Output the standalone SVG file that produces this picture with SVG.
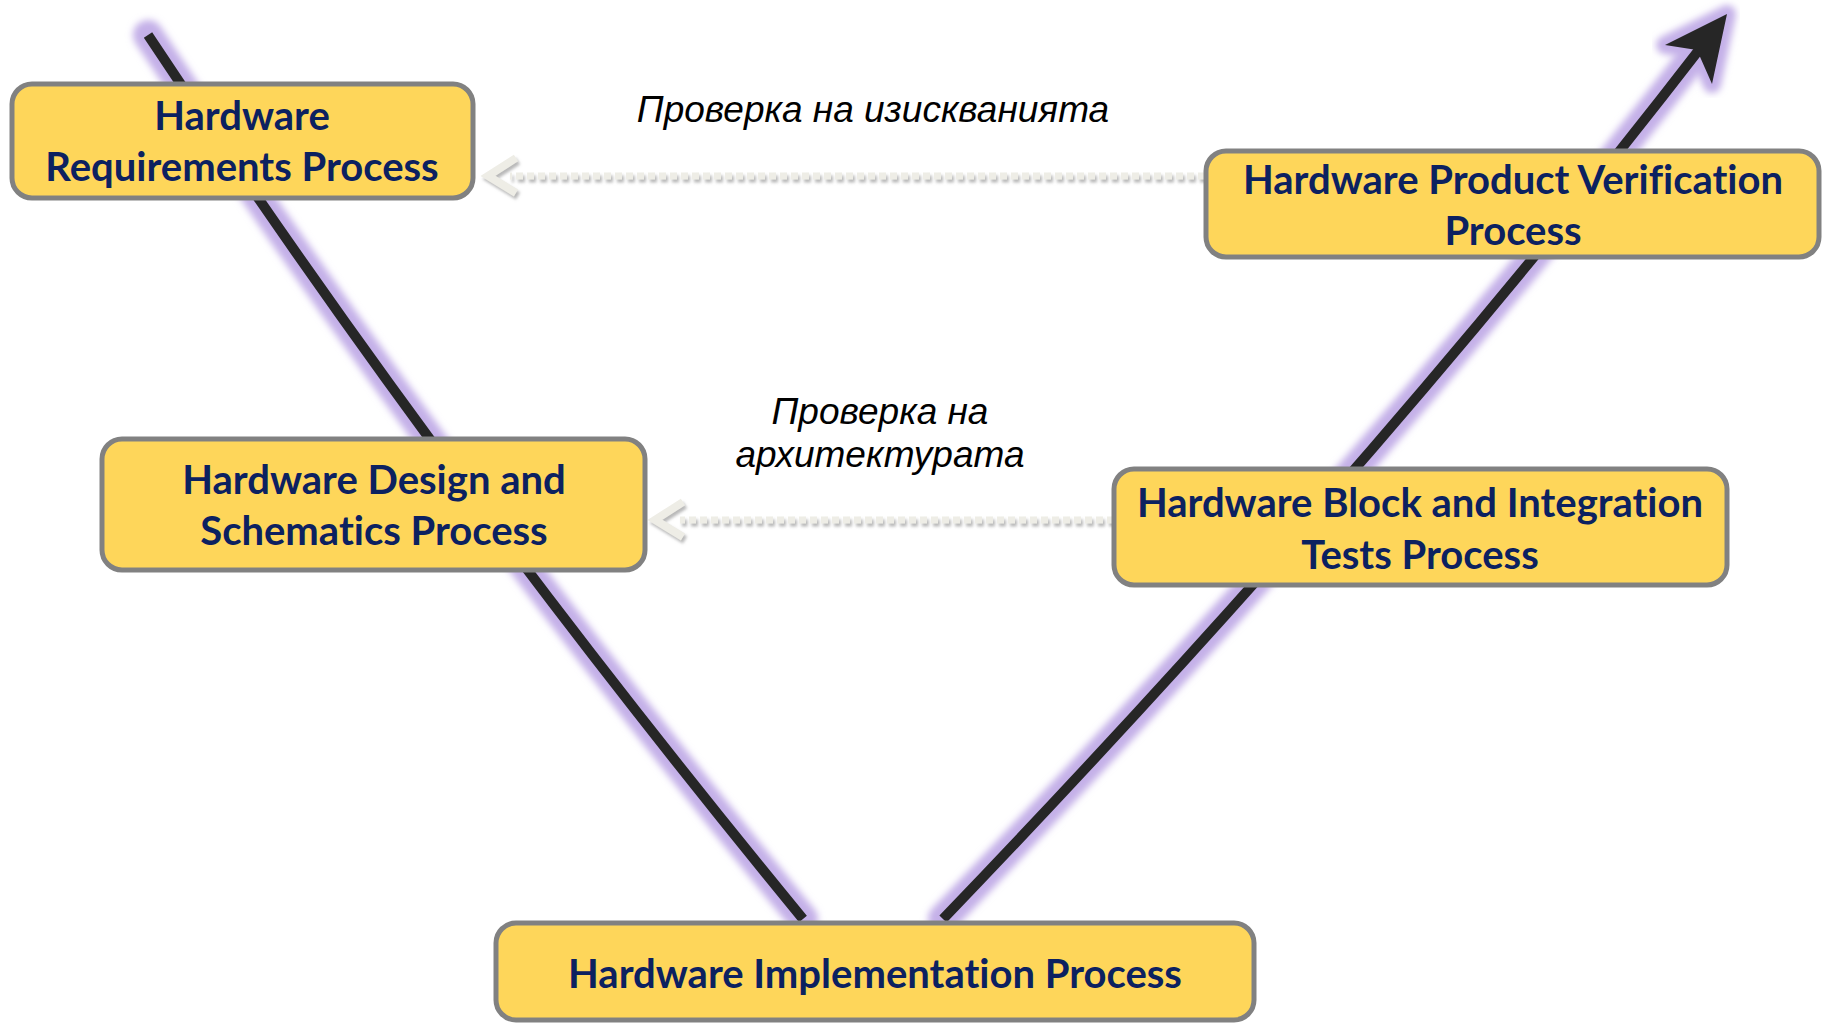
<svg xmlns="http://www.w3.org/2000/svg" width="1825" height="1024" viewBox="0 0 1825 1024">
<style>
.box{fill:#FED65A;stroke:#818181;stroke-width:5}
.bt{font-family:Lato,"Open Sans","Liberation Sans",sans-serif;font-weight:bold;font-size:40px;fill:#0C2160;text-anchor:middle;font-variant-ligatures:none}
.lbl{font-family:"Liberation Sans",Arial,sans-serif;font-style:italic;font-size:37px;fill:#000;text-anchor:middle}
.glow{fill:none;stroke:#C4B0E8;stroke-width:30;stroke-linecap:round;filter:url(#blur)}
.vl{fill:none;stroke:#262626;stroke-width:10}
.dot{fill:none;stroke:#EEEDE6;stroke-width:7;stroke-dasharray:7 4}
.chev{fill:none;stroke:#EEEDE6;stroke-width:8;stroke-linejoin:miter}
</style>
<defs>
<filter id="blur" x="-20%" y="-20%" width="140%" height="140%"><feGaussianBlur stdDeviation="3.5"/></filter>
<filter id="shadow" x="-10%" y="-50%" width="120%" height="200%"><feDropShadow dx="2" dy="3" stdDeviation="1.5" flood-color="#9A9A9A" flood-opacity="0.7"/></filter>
</defs>
<rect width="1825" height="1024" fill="#FFFFFF"/>
<g id="connectors">
<g id="v-left">
<path class="glow" d="M148,35 Q440,477 803,919"/>
<path class="vl" d="M148,35 Q440,477 803,919"/>
</g>
<g id="v-right">
<path class="glow" d="M943,919 Q1377,467 1700,48"/>
<polygon points="1727,14 1665,45 1697,50 1712,84" fill="#C4B0E8" stroke="#C4B0E8" stroke-width="18" stroke-linejoin="round" filter="url(#blur)"/>
<path class="vl" d="M943,919 Q1377,467 1702,46"/>
<polygon points="1727,14 1665,45 1697,50 1712,84" fill="#262626"/>
</g>
<g id="verify-req" filter="url(#shadow)">
<path class="dot" d="M1205,176 H510"/>
<polyline class="chev" points="516,158 488,176 516,193"/>
</g>
<g id="verify-arch" filter="url(#shadow)">
<path class="dot" d="M1114,520 H680"/>
<polyline class="chev" points="683,502 655,520 683,537"/>
</g>
</g>
<g id="node-requirements">
<rect class="box" x="12" y="84" width="461" height="114" rx="20"/>
<text class="bt" x="242" y="130">Hardware</text>
<text class="bt" x="242" y="181">Requirements Process</text>
</g>
<g id="node-design">
<rect class="box" x="102" y="439" width="543" height="131" rx="20"/>
<text class="bt" x="374" y="494">Hardware Design and</text>
<text class="bt" x="374" y="545">Schematics Process</text>
</g>
<g id="node-implementation">
<rect class="box" x="496" y="923" width="758" height="97" rx="20"/>
<text class="bt" x="875" y="988">Hardware Implementation Process</text>
</g>
<g id="node-product-verification">
<rect class="box" x="1206" y="151" width="613" height="106" rx="20"/>
<text class="bt" x="1513" y="194">Hardware Product Verification</text>
<text class="bt" x="1513" y="245">Process</text>
</g>
<g id="node-block-integration">
<rect class="box" x="1114" y="469" width="613" height="116" rx="20"/>
<text class="bt" x="1420" y="517">Hardware Block and Integration</text>
<text class="bt" x="1420" y="569">Tests Process</text>
</g>
<g id="labels">
<text class="lbl" x="873" y="122">Проверка на изискванията</text>
<text class="lbl" x="880" y="424">Проверка на</text>
<text class="lbl" x="880" y="467">архитектурата</text>
</g>
</svg>
